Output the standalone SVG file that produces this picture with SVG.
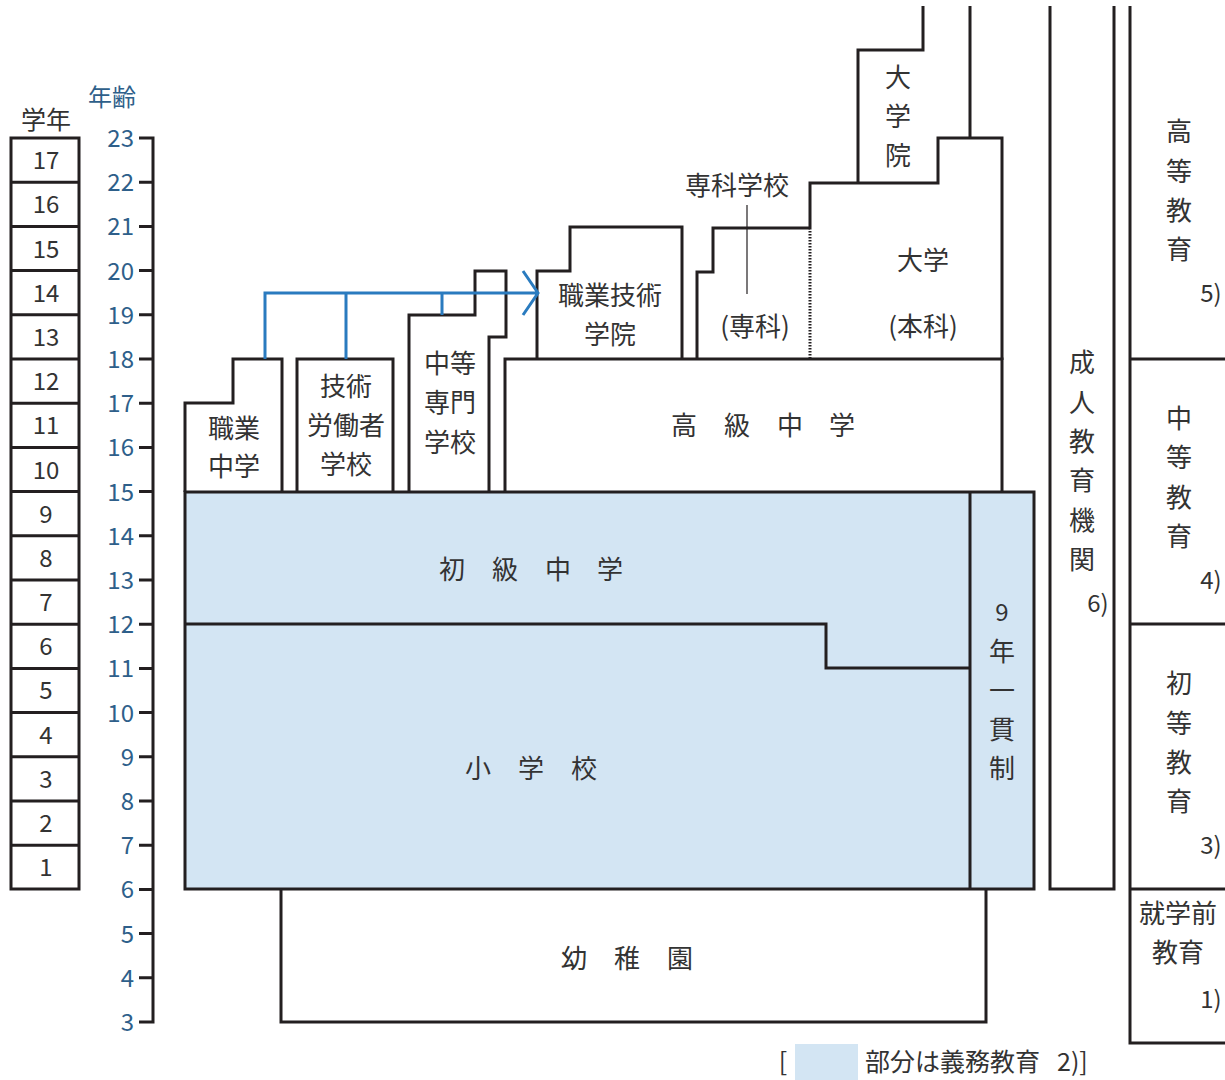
<svg xmlns="http://www.w3.org/2000/svg" width="1225" height="1080" viewBox="0 0 1225 1080">
<style>
.ln{fill:none;stroke:#231f20;stroke-width:3}
.thin{fill:none;stroke:#231f20;stroke-width:1.2}
.t{font-family:"Noto Sans CJK JP","Noto Sans",sans-serif;font-size:26px;fill:#333;text-anchor:middle;dominant-baseline:central}
.d{font-size:24px}
.h{font-size:25px}
.a{font-family:"Noto Sans CJK JP","Noto Sans",sans-serif;font-size:24px;fill:#2e5f8a;text-anchor:end;dominant-baseline:central}
.blue{fill:#d3e5f3}
.conn{fill:none;stroke:#2a7bbf;stroke-width:3}
</style>
<rect width="1225" height="1080" fill="#fff"/>

<g id="grade">
<text class="t h" x="46" y="118">学年</text>
<rect class="ln" x="11" y="138" width="68" height="751"/>
<path class="ln" d="M11,182.2H79M11,226.4H79M11,270.6H79M11,314.8H79M11,359H79M11,403.2H79M11,447.4H79M11,491.6H79M11,535.8H79M11,580H79M11,624.2H79M11,668.4H79M11,712.6H79M11,756.8H79M11,801H79M11,845.2H79"/>
<g class="t d">
<text class="t d" x="46" y="158">17</text><text class="t d" x="46" y="202">16</text><text class="t d" x="46" y="247">15</text><text class="t d" x="46" y="291">14</text><text class="t d" x="46" y="335">13</text><text class="t d" x="46" y="379">12</text><text class="t d" x="46" y="423">11</text><text class="t d" x="46" y="468">10</text><text class="t d" x="46" y="512">9</text><text class="t d" x="46" y="556">8</text><text class="t d" x="46" y="600">7</text><text class="t d" x="46" y="644">6</text><text class="t d" x="46" y="688">5</text><text class="t d" x="46" y="733">4</text><text class="t d" x="46" y="777">3</text><text class="t d" x="46" y="821">2</text><text class="t d" x="46" y="865">1</text>
</g>
</g>

<g id="age">
<text class="a h" x="136" y="95">年齢</text>
<path class="ln" d="M139,138H153V1022H139M139,182.2H153M139,226.4H153M139,270.6H153M139,314.8H153M139,359H153M139,403.2H153M139,447.4H153M139,491.6H153M139,535.8H153M139,580H153M139,624.2H153M139,668.4H153M139,712.6H153M139,756.8H153M139,801H153M139,845.2H153M139,889.4H153M139,933.6H153M139,977.8H153"/>
<text class="a" x="134" y="136">23</text><text class="a" x="134" y="180">22</text><text class="a" x="134" y="224">21</text><text class="a" x="134" y="269">20</text><text class="a" x="134" y="313">19</text><text class="a" x="134" y="357">18</text><text class="a" x="134" y="401">17</text><text class="a" x="134" y="445">16</text><text class="a" x="134" y="490">15</text><text class="a" x="134" y="534">14</text><text class="a" x="134" y="578">13</text><text class="a" x="134" y="622">12</text><text class="a" x="134" y="666">11</text><text class="a" x="134" y="711">10</text><text class="a" x="134" y="755">9</text><text class="a" x="134" y="799">8</text><text class="a" x="134" y="843">7</text><text class="a" x="134" y="887">6</text><text class="a" x="134" y="932">5</text><text class="a" x="134" y="976">4</text><text class="a" x="134" y="1020">3</text>
</g>

<g id="compulsory">
<rect class="blue" x="185" y="492" width="849" height="397"/>
<rect class="ln" x="185" y="492" width="849" height="397"/>
<path class="ln" d="M970,492V889M185,624H826V668H970"/>
</g>
<g id="junior-middle"><text class="t" x="452" y="567">初</text><text class="t" x="505" y="567">級</text><text class="t" x="558" y="567">中</text><text class="t" x="610" y="567">学</text></g>
<g id="primary"><text class="t" x="478" y="766">小</text><text class="t" x="531" y="766">学</text><text class="t" x="584" y="766">校</text></g>
<g id="nine-year">
<text class="t d" x="1002" y="610">9</text><text class="t" x="1002" y="649">年</text><text class="t" x="1002" y="688">一</text><text class="t" x="1002" y="727">貫</text><text class="t" x="1002" y="766">制</text>
</g>

<g id="kindergarten">
<path class="ln" d="M281,889V1022H986V889"/>
<text class="t" x="574" y="956">幼</text><text class="t" x="627" y="956">稚</text><text class="t" x="680" y="956">園</text>
</g>

<g id="vocational-middle">
<path class="ln" d="M185,492V403H233V359H282V492"/>
<text class="t" x="234" y="426">職業</text><text class="t" x="234" y="464">中学</text>
</g>
<g id="skilled-worker">
<path class="ln" d="M297,492V359H393V492"/>
<text class="t" x="346" y="384">技術</text><text class="t" x="346" y="423">労働者</text><text class="t" x="346" y="462">学校</text>
</g>
<g id="secondary-specialized">
<path class="ln" d="M409,492V315H475V271H506V337H489V492"/>
<text class="t" x="450" y="361">中等</text><text class="t" x="450" y="400">専門</text><text class="t" x="450" y="440">学校</text>
</g>
<g id="senior-high">
<path class="ln" d="M505,492V359H1002V492"/>
<text class="t" x="684" y="423">高</text><text class="t" x="737" y="423">級</text><text class="t" x="790" y="423">中</text><text class="t" x="842" y="423">学</text>
</g>
<g id="vocational-college">
<path class="ln" d="M537,359V271H570V227H682V359"/>
<text class="t" x="610" y="293">職業技術</text><text class="t" x="610" y="332">学院</text>
</g>
<g id="junior-college">
<path class="ln" d="M697,359V272H713V228H810"/>
<path d="M810,228V359" stroke="#231f20" stroke-width="3" stroke-dasharray="1.5,1.5" fill="none"/>
<text class="t" x="737" y="183">専科学校</text>
<path class="thin" d="M747,205V294"/>
<text class="t" x="755" y="324">(専科)</text>
</g>
<g id="university">
<path class="ln" d="M810,228V183H938V138H1002V360"/>
<text class="t" x="923" y="258">大学</text><text class="t" x="923" y="324">(本科)</text>
</g>
<g id="graduate">
<path class="ln" d="M923,6V50H858V184M970,6V138"/>
<text class="t" x="898" y="75">大</text><text class="t" x="898" y="114">学</text><text class="t" x="898" y="153">院</text>
</g>

<g id="adult">
<path class="ln" d="M1050,6V889H1114V6"/>
<text class="t" x="1082" y="360">成</text><text class="t" x="1082" y="400">人</text><text class="t" x="1082" y="439">教</text><text class="t" x="1082" y="478">育</text><text class="t" x="1082" y="518">機</text><text class="t" x="1082" y="557">関</text><text class="t d" x="1098" y="601">6)</text>
</g>

<g id="levels">
<path class="ln" d="M1130,6V1043H1225M1130,359H1225M1130,624H1225M1130,889H1225"/>
<text class="t" x="1179" y="129">高</text><text class="t" x="1179" y="169">等</text><text class="t" x="1179" y="208">教</text><text class="t" x="1179" y="247">育</text><text class="t d" x="1211" y="291">5)</text>
<text class="t" x="1179" y="416">中</text><text class="t" x="1179" y="455">等</text><text class="t" x="1179" y="495">教</text><text class="t" x="1179" y="534">育</text><text class="t d" x="1211" y="578">4)</text>
<text class="t" x="1179" y="681">初</text><text class="t" x="1179" y="721">等</text><text class="t" x="1179" y="760">教</text><text class="t" x="1179" y="799">育</text><text class="t d" x="1211" y="843">3)</text>
<text class="t" x="1178" y="911">就学前</text><text class="t" x="1178" y="950">教育</text><text class="t d" x="1211" y="997">1)</text>
</g>

<g id="connectors">
<path class="conn" d="M265,359V293H538M346,359V293M442,315V293M523,271L538,293L523,315"/>
</g>

<g id="legend">
<text class="t h" x="783" y="1060">[</text>
<rect class="blue" x="795" y="1044" width="63" height="36"/>
<text class="t h" x="865" y="1060" style="text-anchor:start">部分は義務教育</text>
<text class="t h" x="1057" y="1060" style="text-anchor:start">2)]</text>
</g>
</svg>
